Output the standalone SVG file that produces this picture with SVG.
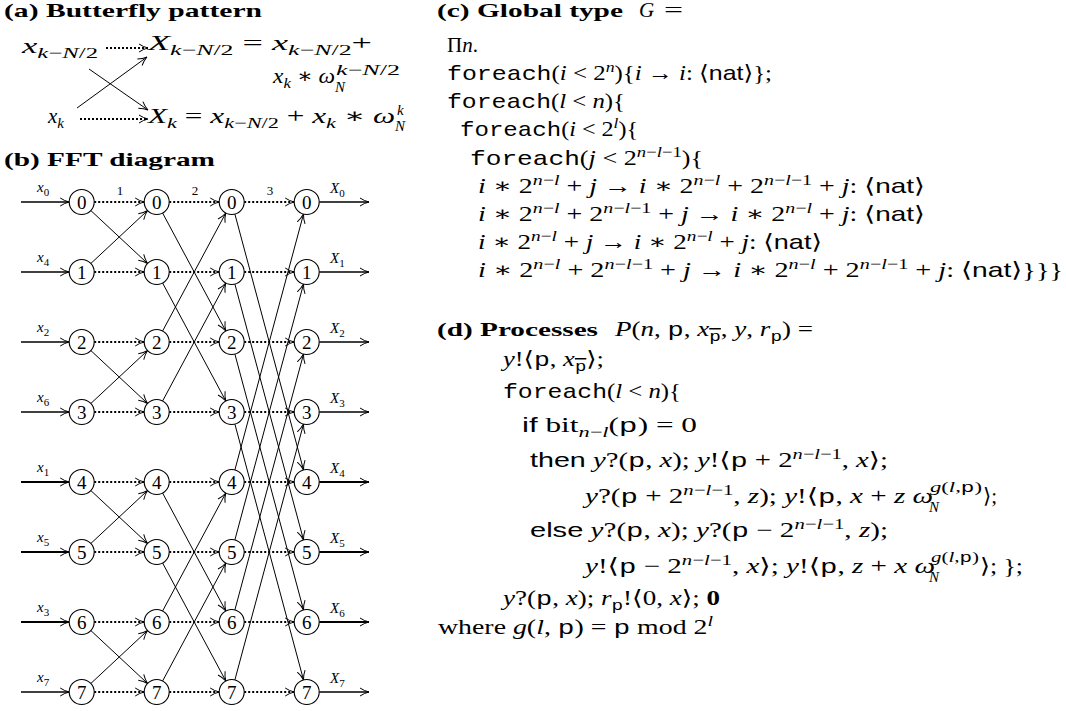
<svg xmlns="http://www.w3.org/2000/svg" width="1066" height="711" viewBox="0 0 1066 711">
<style>
text { font-family: "Liberation Serif", "DejaVu Serif", serif; font-size: 21px; fill: #000; }
.ttl { font-weight: bold; font-size: 19px; }
.i { font-style: italic; }
.tt { font-family: "Liberation Mono", "DejaVu Sans Mono", monospace; font-style: normal; }
.sf { font-family: "Liberation Sans", "DejaVu Sans", sans-serif; font-style: normal; }
.s { font-size: 15px; }
.node circle { fill: #fff; stroke: #000; stroke-width: 1.1; }
.node text { font-size: 19px; text-anchor: middle; }
.lbl { font-size: 15px; }
.lbl2 { font-size: 11px; }
.step { font-size: 13px; text-anchor: middle; }
.edge { stroke: #000; stroke-width: 1; fill: none; marker-end: url(#ah); }
.dot { stroke: #000; stroke-width: 1.8; stroke-dasharray: 2 2; fill: none; marker-end: url(#ah); }
.io { stroke: #000; stroke-width: 1.6; fill: none; marker-end: url(#ah); }
.io2 { stroke: #000; stroke-width: 2.2; fill: none; marker-end: url(#ah); }
</style>
<defs>
<marker id="ah" viewBox="0 0 10 10" refX="9.5" refY="5" markerWidth="10" markerHeight="10" orient="auto" markerUnits="userSpaceOnUse">
<path d="M0.5,1 Q5,4 9.5,5 Q5,6 0.5,9" fill="none" stroke="#000" stroke-width="1" stroke-dasharray="none"/>
</marker>
</defs>

<!-- (a) Butterfly -->
<g id="panel-a">
<text x="4" y="17" class="ttl" textLength="258" lengthAdjust="spacingAndGlyphs">(a) Butterfly pattern</text>
<g id="bf-in1"><text x="22" y="53" textLength="76" lengthAdjust="spacingAndGlyphs"><tspan class="i">x</tspan><tspan class="s" dy="5"><tspan class="i">k</tspan>−<tspan class="i">N</tspan>/2</tspan></text></g>
<g id="bf-out1"><text x="148" y="50" textLength="224" lengthAdjust="spacingAndGlyphs"><tspan class="i">X</tspan><tspan class="s" dy="5"><tspan class="i">k</tspan>−<tspan class="i">N</tspan>/2</tspan><tspan dy="-5"> = </tspan><tspan class="i">x</tspan><tspan class="s" dy="5"><tspan class="i">k</tspan>−<tspan class="i">N</tspan>/2</tspan><tspan dy="-5">+</tspan></text>
<text x="273" y="83" textLength="62" lengthAdjust="spacingAndGlyphs"><tspan class="i">x</tspan><tspan class="s i" dy="5">k</tspan><tspan dy="-5"> ∗ </tspan><tspan class="i">ω</tspan></text>
<text x="336" y="75" class="s" textLength="64" lengthAdjust="spacingAndGlyphs"><tspan class="i">k</tspan>−<tspan class="i">N</tspan>/2</text>
<text x="335" y="92" class="s i">N</text></g>
<g id="bf-in2"><text x="48" y="123"><tspan class="i">x</tspan><tspan class="s i" dy="5">k</tspan></text></g>
<g id="bf-out2"><text x="148" y="123" textLength="247" lengthAdjust="spacingAndGlyphs"><tspan class="i">X</tspan><tspan class="s i" dy="5">k</tspan><tspan dy="-5"> = </tspan><tspan class="i">x</tspan><tspan class="s" dy="5"><tspan class="i">k</tspan>−<tspan class="i">N</tspan>/2</tspan><tspan dy="-5"> + </tspan><tspan class="i">x</tspan><tspan class="s i" dy="5">k</tspan><tspan dy="-5"> ∗ </tspan><tspan class="i">ω</tspan></text>
<text x="397" y="115" class="s i">k</text>
<text x="395" y="131" class="s i">N</text></g>
</g>

<!-- (b) FFT -->
<text x="4" y="166" class="ttl" textLength="211" lengthAdjust="spacingAndGlyphs">(b) FFT diagram</text>

<g id="connectors">
<!-- butterfly -->
<line class="dot" x1="106" y1="48" x2="148" y2="48"/>
<line class="dot" x1="80" y1="119" x2="148" y2="119"/>
<line class="edge" x1="89" y1="69" x2="148" y2="110"/>
<line class="edge" x1="77" y1="108" x2="147" y2="57"/>
<!-- inputs -->
<line class="io" x1="21" y1="202" x2="69.2" y2="202"/>
<line class="io" x1="21" y1="272" x2="69.2" y2="272"/>
<line class="io" x1="21" y1="342" x2="69.2" y2="342"/>
<line class="io" x1="21" y1="412" x2="69.2" y2="412"/>
<line class="io2" x1="21" y1="482" x2="69.2" y2="482"/>
<line class="io2" x1="21" y1="552" x2="69.2" y2="552"/>
<line class="io2" x1="21" y1="622" x2="69.2" y2="622"/>
<line class="io" x1="21" y1="692" x2="69.2" y2="692"/>
<!-- outputs -->
<line class="io" x1="319.2" y1="202" x2="369" y2="202"/>
<line class="io" x1="319.2" y1="272" x2="369" y2="272"/>
<line class="io" x1="319.2" y1="342" x2="369" y2="342"/>
<line class="io" x1="319.2" y1="412" x2="369" y2="412"/>
<line class="io2" x1="319.2" y1="482" x2="369" y2="482"/>
<line class="io2" x1="319.2" y1="552" x2="369" y2="552"/>
<line class="io2" x1="319.2" y1="622" x2="369" y2="622"/>
<line class="io" x1="319.2" y1="692" x2="369" y2="692"/>
<!-- dotted straight -->
<g id="dotted">
<line class="dot" x1="94.2" y1="202" x2="144.2" y2="202"/><line class="dot" x1="169.2" y1="202" x2="219.2" y2="202"/><line class="dot" x1="244.2" y1="202" x2="294.2" y2="202"/>
<line class="dot" x1="94.2" y1="272" x2="144.2" y2="272"/><line class="dot" x1="169.2" y1="272" x2="219.2" y2="272"/><line class="dot" x1="244.2" y1="272" x2="294.2" y2="272"/>
<line class="dot" x1="94.2" y1="342" x2="144.2" y2="342"/><line class="dot" x1="169.2" y1="342" x2="219.2" y2="342"/><line class="dot" x1="244.2" y1="342" x2="294.2" y2="342"/>
<line class="dot" x1="94.2" y1="412" x2="144.2" y2="412"/><line class="dot" x1="169.2" y1="412" x2="219.2" y2="412"/><line class="dot" x1="244.2" y1="412" x2="294.2" y2="412"/>
<line class="dot" x1="94.2" y1="482" x2="144.2" y2="482"/><line class="dot" x1="169.2" y1="482" x2="219.2" y2="482"/><line class="dot" x1="244.2" y1="482" x2="294.2" y2="482"/>
<line class="dot" x1="94.2" y1="552" x2="144.2" y2="552"/><line class="dot" x1="169.2" y1="552" x2="219.2" y2="552"/><line class="dot" x1="244.2" y1="552" x2="294.2" y2="552"/>
<line class="dot" x1="94.2" y1="622" x2="144.2" y2="622"/><line class="dot" x1="169.2" y1="622" x2="219.2" y2="622"/><line class="dot" x1="244.2" y1="622" x2="294.2" y2="622"/>
<line class="dot" x1="94.2" y1="692" x2="144.2" y2="692"/><line class="dot" x1="169.2" y1="692" x2="219.2" y2="692"/><line class="dot" x1="244.2" y1="692" x2="294.2" y2="692"/>
</g>
<!-- stage 1 -->
<line class="edge" x1="90.8" y1="210.5" x2="147.6" y2="263.5"/><line class="edge" x1="90.8" y1="263.5" x2="147.6" y2="210.5"/>
<line class="edge" x1="90.8" y1="350.5" x2="147.6" y2="403.5"/><line class="edge" x1="90.8" y1="403.5" x2="147.6" y2="350.5"/>
<line class="edge" x1="90.8" y1="490.5" x2="147.6" y2="543.5"/><line class="edge" x1="90.8" y1="543.5" x2="147.6" y2="490.5"/>
<line class="edge" x1="90.8" y1="630.5" x2="147.6" y2="683.5"/><line class="edge" x1="90.8" y1="683.5" x2="147.6" y2="630.5"/>
<!-- stage 2 -->
<line class="edge" x1="162.6" y1="213" x2="225.8" y2="331"/><line class="edge" x1="162.6" y1="331" x2="225.8" y2="213"/>
<line class="edge" x1="162.6" y1="283" x2="225.8" y2="401"/><line class="edge" x1="162.6" y1="401" x2="225.8" y2="283"/>
<line class="edge" x1="162.6" y1="493" x2="225.8" y2="611"/><line class="edge" x1="162.6" y1="611" x2="225.8" y2="493"/>
<line class="edge" x1="162.6" y1="563" x2="225.8" y2="681"/><line class="edge" x1="162.6" y1="681" x2="225.8" y2="563"/>
<!-- stage 3 -->
<line class="edge" x1="234.9" y1="214.1" x2="303.5" y2="469.9"/><line class="edge" x1="234.9" y1="469.9" x2="303.5" y2="214.1"/>
<line class="edge" x1="234.9" y1="284.1" x2="303.5" y2="539.9"/><line class="edge" x1="234.9" y1="539.9" x2="303.5" y2="284.1"/>
<line class="edge" x1="234.9" y1="354.1" x2="303.5" y2="609.9"/><line class="edge" x1="234.9" y1="609.9" x2="303.5" y2="354.1"/>
<line class="edge" x1="234.9" y1="424.1" x2="303.5" y2="679.9"/><line class="edge" x1="234.9" y1="679.9" x2="303.5" y2="424.1"/>
</g>

<g id="fft-labels">
<text class="step" x="120" y="195">1</text><text class="step" x="195" y="195">2</text><text class="step" x="270" y="195">3</text>
<text x="37" y="192" class="lbl i">x<tspan class="lbl2" dy="4" font-style="normal">0</tspan></text>
<text x="37" y="262" class="lbl i">x<tspan class="lbl2" dy="4" font-style="normal">4</tspan></text>
<text x="37" y="332" class="lbl i">x<tspan class="lbl2" dy="4" font-style="normal">2</tspan></text>
<text x="37" y="402" class="lbl i">x<tspan class="lbl2" dy="4" font-style="normal">6</tspan></text>
<text x="37" y="472" class="lbl i">x<tspan class="lbl2" dy="4" font-style="normal">1</tspan></text>
<text x="37" y="542" class="lbl i">x<tspan class="lbl2" dy="4" font-style="normal">5</tspan></text>
<text x="37" y="612" class="lbl i">x<tspan class="lbl2" dy="4" font-style="normal">3</tspan></text>
<text x="37" y="682" class="lbl i">x<tspan class="lbl2" dy="4" font-style="normal">7</tspan></text>
<text x="330" y="193" class="lbl i">X<tspan class="lbl2" dy="4" font-style="normal">0</tspan></text>
<text x="330" y="263" class="lbl i">X<tspan class="lbl2" dy="4" font-style="normal">1</tspan></text>
<text x="330" y="333" class="lbl i">X<tspan class="lbl2" dy="4" font-style="normal">2</tspan></text>
<text x="330" y="403" class="lbl i">X<tspan class="lbl2" dy="4" font-style="normal">3</tspan></text>
<text x="330" y="473" class="lbl i">X<tspan class="lbl2" dy="4" font-style="normal">4</tspan></text>
<text x="330" y="543" class="lbl i">X<tspan class="lbl2" dy="4" font-style="normal">5</tspan></text>
<text x="330" y="613" class="lbl i">X<tspan class="lbl2" dy="4" font-style="normal">6</tspan></text>
<text x="330" y="683" class="lbl i">X<tspan class="lbl2" dy="4" font-style="normal">7</tspan></text>
</g>

<g id="fft-nodes">
<g id="n0-0" class="node"><circle cx="81.7" cy="202" r="12.5"/><text x="81.7" y="208.7">0</text></g>
<g id="n0-1" class="node"><circle cx="81.7" cy="272" r="12.5"/><text x="81.7" y="278.7">1</text></g>
<g id="n0-2" class="node"><circle cx="81.7" cy="342" r="12.5"/><text x="81.7" y="348.7">2</text></g>
<g id="n0-3" class="node"><circle cx="81.7" cy="412" r="12.5"/><text x="81.7" y="418.7">3</text></g>
<g id="n0-4" class="node"><circle cx="81.7" cy="482" r="12.5"/><text x="81.7" y="488.7">4</text></g>
<g id="n0-5" class="node"><circle cx="81.7" cy="552" r="12.5"/><text x="81.7" y="558.7">5</text></g>
<g id="n0-6" class="node"><circle cx="81.7" cy="622" r="12.5"/><text x="81.7" y="628.7">6</text></g>
<g id="n0-7" class="node"><circle cx="81.7" cy="692" r="12.5"/><text x="81.7" y="698.7">7</text></g>
<g id="n1-0" class="node"><circle cx="156.7" cy="202" r="12.5"/><text x="156.7" y="208.7">0</text></g>
<g id="n1-1" class="node"><circle cx="156.7" cy="272" r="12.5"/><text x="156.7" y="278.7">1</text></g>
<g id="n1-2" class="node"><circle cx="156.7" cy="342" r="12.5"/><text x="156.7" y="348.7">2</text></g>
<g id="n1-3" class="node"><circle cx="156.7" cy="412" r="12.5"/><text x="156.7" y="418.7">3</text></g>
<g id="n1-4" class="node"><circle cx="156.7" cy="482" r="12.5"/><text x="156.7" y="488.7">4</text></g>
<g id="n1-5" class="node"><circle cx="156.7" cy="552" r="12.5"/><text x="156.7" y="558.7">5</text></g>
<g id="n1-6" class="node"><circle cx="156.7" cy="622" r="12.5"/><text x="156.7" y="628.7">6</text></g>
<g id="n1-7" class="node"><circle cx="156.7" cy="692" r="12.5"/><text x="156.7" y="698.7">7</text></g>
<g id="n2-0" class="node"><circle cx="231.7" cy="202" r="12.5"/><text x="231.7" y="208.7">0</text></g>
<g id="n2-1" class="node"><circle cx="231.7" cy="272" r="12.5"/><text x="231.7" y="278.7">1</text></g>
<g id="n2-2" class="node"><circle cx="231.7" cy="342" r="12.5"/><text x="231.7" y="348.7">2</text></g>
<g id="n2-3" class="node"><circle cx="231.7" cy="412" r="12.5"/><text x="231.7" y="418.7">3</text></g>
<g id="n2-4" class="node"><circle cx="231.7" cy="482" r="12.5"/><text x="231.7" y="488.7">4</text></g>
<g id="n2-5" class="node"><circle cx="231.7" cy="552" r="12.5"/><text x="231.7" y="558.7">5</text></g>
<g id="n2-6" class="node"><circle cx="231.7" cy="622" r="12.5"/><text x="231.7" y="628.7">6</text></g>
<g id="n2-7" class="node"><circle cx="231.7" cy="692" r="12.5"/><text x="231.7" y="698.7">7</text></g>
<g id="n3-0" class="node"><circle cx="306.7" cy="202" r="12.5"/><text x="306.7" y="208.7">0</text></g>
<g id="n3-1" class="node"><circle cx="306.7" cy="272" r="12.5"/><text x="306.7" y="278.7">1</text></g>
<g id="n3-2" class="node"><circle cx="306.7" cy="342" r="12.5"/><text x="306.7" y="348.7">2</text></g>
<g id="n3-3" class="node"><circle cx="306.7" cy="412" r="12.5"/><text x="306.7" y="418.7">3</text></g>
<g id="n3-4" class="node"><circle cx="306.7" cy="482" r="12.5"/><text x="306.7" y="488.7">4</text></g>
<g id="n3-5" class="node"><circle cx="306.7" cy="552" r="12.5"/><text x="306.7" y="558.7">5</text></g>
<g id="n3-6" class="node"><circle cx="306.7" cy="622" r="12.5"/><text x="306.7" y="628.7">6</text></g>
<g id="n3-7" class="node"><circle cx="306.7" cy="692" r="12.5"/><text x="306.7" y="698.7">7</text></g>
</g>

<!-- (c) Global type -->
<g id="panel-c">
<text x="437" y="17" class="ttl" textLength="186" lengthAdjust="spacingAndGlyphs">(c) Global type</text>
<text x="639" y="17" class="i">G</text>
<text x="664" y="17" textLength="19" lengthAdjust="spacingAndGlyphs">=</text>
<text x="447" y="52">Π<tspan class="i">n</tspan>.</text>
<text x="447" y="80" textLength="325" lengthAdjust="spacingAndGlyphs"><tspan class="tt">foreach</tspan>(<tspan class="i">i</tspan> &lt; 2<tspan class="s i" dy="-8">n</tspan><tspan dy="8">){</tspan><tspan class="i">i</tspan> → <tspan class="i">i</tspan>: ⟨<tspan class="sf">nat</tspan>⟩};</text>
<text x="447" y="108" textLength="178" lengthAdjust="spacingAndGlyphs"><tspan class="tt">foreach</tspan>(<tspan class="i">l</tspan> &lt; <tspan class="i">n</tspan>){</text>
<text x="460" y="136" textLength="178" lengthAdjust="spacingAndGlyphs"><tspan class="tt">foreach</tspan>(<tspan class="i">i</tspan> &lt; 2<tspan class="s i" dy="-8">l</tspan><tspan dy="8">){</tspan></text>
<text x="470" y="165" textLength="233" lengthAdjust="spacingAndGlyphs"><tspan class="tt">foreach</tspan>(<tspan class="i">j</tspan> &lt; 2<tspan class="s" dy="-8"><tspan class="i">n</tspan>−<tspan class="i">l</tspan>−1</tspan><tspan dy="8">){</tspan></text>
<text x="478" y="193" textLength="447" lengthAdjust="spacingAndGlyphs"><tspan class="i">i</tspan> ∗ 2<tspan class="s" dy="-8"><tspan class="i">n</tspan>−<tspan class="i">l</tspan></tspan><tspan dy="8"> + </tspan><tspan class="i">j</tspan> → <tspan class="i">i</tspan> ∗ 2<tspan class="s" dy="-8"><tspan class="i">n</tspan>−<tspan class="i">l</tspan></tspan><tspan dy="8"> + 2</tspan><tspan class="s" dy="-8"><tspan class="i">n</tspan>−<tspan class="i">l</tspan>−1</tspan><tspan dy="8"> + </tspan><tspan class="i">j</tspan>: ⟨<tspan class="sf">nat</tspan>⟩</text>
<text x="478" y="221" textLength="447" lengthAdjust="spacingAndGlyphs"><tspan class="i">i</tspan> ∗ 2<tspan class="s" dy="-8"><tspan class="i">n</tspan>−<tspan class="i">l</tspan></tspan><tspan dy="8"> + 2</tspan><tspan class="s" dy="-8"><tspan class="i">n</tspan>−<tspan class="i">l</tspan>−1</tspan><tspan dy="8"> + </tspan><tspan class="i">j</tspan> → <tspan class="i">i</tspan> ∗ 2<tspan class="s" dy="-8"><tspan class="i">n</tspan>−<tspan class="i">l</tspan></tspan><tspan dy="8"> + </tspan><tspan class="i">j</tspan>: ⟨<tspan class="sf">nat</tspan>⟩</text>
<text x="478" y="249" textLength="344" lengthAdjust="spacingAndGlyphs"><tspan class="i">i</tspan> ∗ 2<tspan class="s" dy="-8"><tspan class="i">n</tspan>−<tspan class="i">l</tspan></tspan><tspan dy="8"> + </tspan><tspan class="i">j</tspan> → <tspan class="i">i</tspan> ∗ 2<tspan class="s" dy="-8"><tspan class="i">n</tspan>−<tspan class="i">l</tspan></tspan><tspan dy="8"> + </tspan><tspan class="i">j</tspan>: ⟨<tspan class="sf">nat</tspan>⟩</text>
<text x="478" y="277" textLength="585" lengthAdjust="spacingAndGlyphs"><tspan class="i">i</tspan> ∗ 2<tspan class="s" dy="-8"><tspan class="i">n</tspan>−<tspan class="i">l</tspan></tspan><tspan dy="8"> + 2</tspan><tspan class="s" dy="-8"><tspan class="i">n</tspan>−<tspan class="i">l</tspan>−1</tspan><tspan dy="8"> + </tspan><tspan class="i">j</tspan> → <tspan class="i">i</tspan> ∗ 2<tspan class="s" dy="-8"><tspan class="i">n</tspan>−<tspan class="i">l</tspan></tspan><tspan dy="8"> + 2</tspan><tspan class="s" dy="-8"><tspan class="i">n</tspan>−<tspan class="i">l</tspan>−1</tspan><tspan dy="8"> + </tspan><tspan class="i">j</tspan>: ⟨<tspan class="sf">nat</tspan>⟩}}}</text>
</g>

<!-- (d) Processes -->
<g id="panel-d">
<text x="437" y="336" class="ttl" textLength="161" lengthAdjust="spacingAndGlyphs">(d) Processes</text>
<text x="615" y="336" textLength="198" lengthAdjust="spacingAndGlyphs"><tspan class="i">P</tspan>(<tspan class="i">n</tspan>, <tspan class="tt">p</tspan>, <tspan class="i">x</tspan><tspan class="s tt" dy="5" text-decoration="overline">p</tspan><tspan dy="-5">, </tspan><tspan class="i">y</tspan>, <tspan class="i">r</tspan><tspan class="s tt" dy="5">p</tspan><tspan dy="-5">) =</tspan></text>
<text x="503" y="366" textLength="101" lengthAdjust="spacingAndGlyphs"><tspan class="i">y</tspan>!⟨<tspan class="tt">p</tspan>, <tspan class="i">x</tspan><tspan class="s tt" dy="5" text-decoration="overline">p</tspan><tspan dy="-5">⟩;</tspan></text>
<text x="503" y="398" textLength="178" lengthAdjust="spacingAndGlyphs"><tspan class="tt">foreach</tspan>(<tspan class="i">l</tspan> &lt; <tspan class="i">n</tspan>){</text>
<text x="522" y="432" textLength="175" lengthAdjust="spacingAndGlyphs"><tspan class="sf">if</tspan> bit<tspan class="s" dy="5"><tspan class="i">n</tspan>−<tspan class="i">l</tspan></tspan><tspan dy="-5">(</tspan><tspan class="tt">p</tspan>) = 0</text>
<text x="530" y="467" textLength="358" lengthAdjust="spacingAndGlyphs"><tspan class="sf">then</tspan> <tspan class="i">y</tspan>?(<tspan class="tt">p</tspan>, <tspan class="i">x</tspan>); <tspan class="i">y</tspan>!⟨<tspan class="tt">p</tspan> + 2<tspan class="s" dy="-8"><tspan class="i">n</tspan>−<tspan class="i">l</tspan>−1</tspan><tspan dy="8">, </tspan><tspan class="i">x</tspan>⟩;</text>
<text x="585" y="503" textLength="348" lengthAdjust="spacingAndGlyphs"><tspan class="i">y</tspan>?(<tspan class="tt">p</tspan> + 2<tspan class="s" dy="-8"><tspan class="i">n</tspan>−<tspan class="i">l</tspan>−1</tspan><tspan dy="8">, </tspan><tspan class="i">z</tspan>); <tspan class="i">y</tspan>!⟨<tspan class="tt">p</tspan>, <tspan class="i">x</tspan> + <tspan class="i">z</tspan> <tspan class="i">ω</tspan></text>
<text x="930" y="492" class="s" textLength="52" lengthAdjust="spacingAndGlyphs"><tspan class="i">g</tspan>(<tspan class="i">l</tspan>,<tspan class="tt">p</tspan>)</text>
<text x="929" y="512" class="s i">N</text>
<text x="983" y="503">⟩;</text>
<text x="530" y="537" textLength="358" lengthAdjust="spacingAndGlyphs"><tspan class="sf">else</tspan> <tspan class="i">y</tspan>?(<tspan class="tt">p</tspan>, <tspan class="i">x</tspan>); <tspan class="i">y</tspan>?(<tspan class="tt">p</tspan> − 2<tspan class="s" dy="-8"><tspan class="i">n</tspan>−<tspan class="i">l</tspan>−1</tspan><tspan dy="8">, </tspan><tspan class="i">z</tspan>);</text>
<text x="585" y="573" textLength="350" lengthAdjust="spacingAndGlyphs"><tspan class="i">y</tspan>!⟨<tspan class="tt">p</tspan> − 2<tspan class="s" dy="-8"><tspan class="i">n</tspan>−<tspan class="i">l</tspan>−1</tspan><tspan dy="8">, </tspan><tspan class="i">x</tspan>⟩; <tspan class="i">y</tspan>!⟨<tspan class="tt">p</tspan>, <tspan class="i">z</tspan> + <tspan class="i">x</tspan> <tspan class="i">ω</tspan></text>
<text x="931" y="562" class="s" textLength="48" lengthAdjust="spacingAndGlyphs"><tspan class="i">g</tspan>(<tspan class="i">l</tspan>,<tspan class="tt">p</tspan>)</text>
<text x="929" y="582" class="s i">N</text>
<text x="980" y="573" textLength="43" lengthAdjust="spacingAndGlyphs">⟩; };</text>
<text x="503" y="605" textLength="217" lengthAdjust="spacingAndGlyphs"><tspan class="i">y</tspan>?(<tspan class="tt">p</tspan>, <tspan class="i">x</tspan>); <tspan class="i">r</tspan><tspan class="s tt" dy="5">p</tspan><tspan dy="-5">!⟨0, </tspan><tspan class="i">x</tspan>⟩; <tspan font-weight="bold">0</tspan></text>
<text x="438" y="634" textLength="275" lengthAdjust="spacingAndGlyphs">where <tspan class="i">g</tspan>(<tspan class="i">l</tspan>, <tspan class="tt">p</tspan>) = <tspan class="tt">p</tspan>  mod 2<tspan class="s i" dy="-8">l</tspan></text>
</g>
</svg>
